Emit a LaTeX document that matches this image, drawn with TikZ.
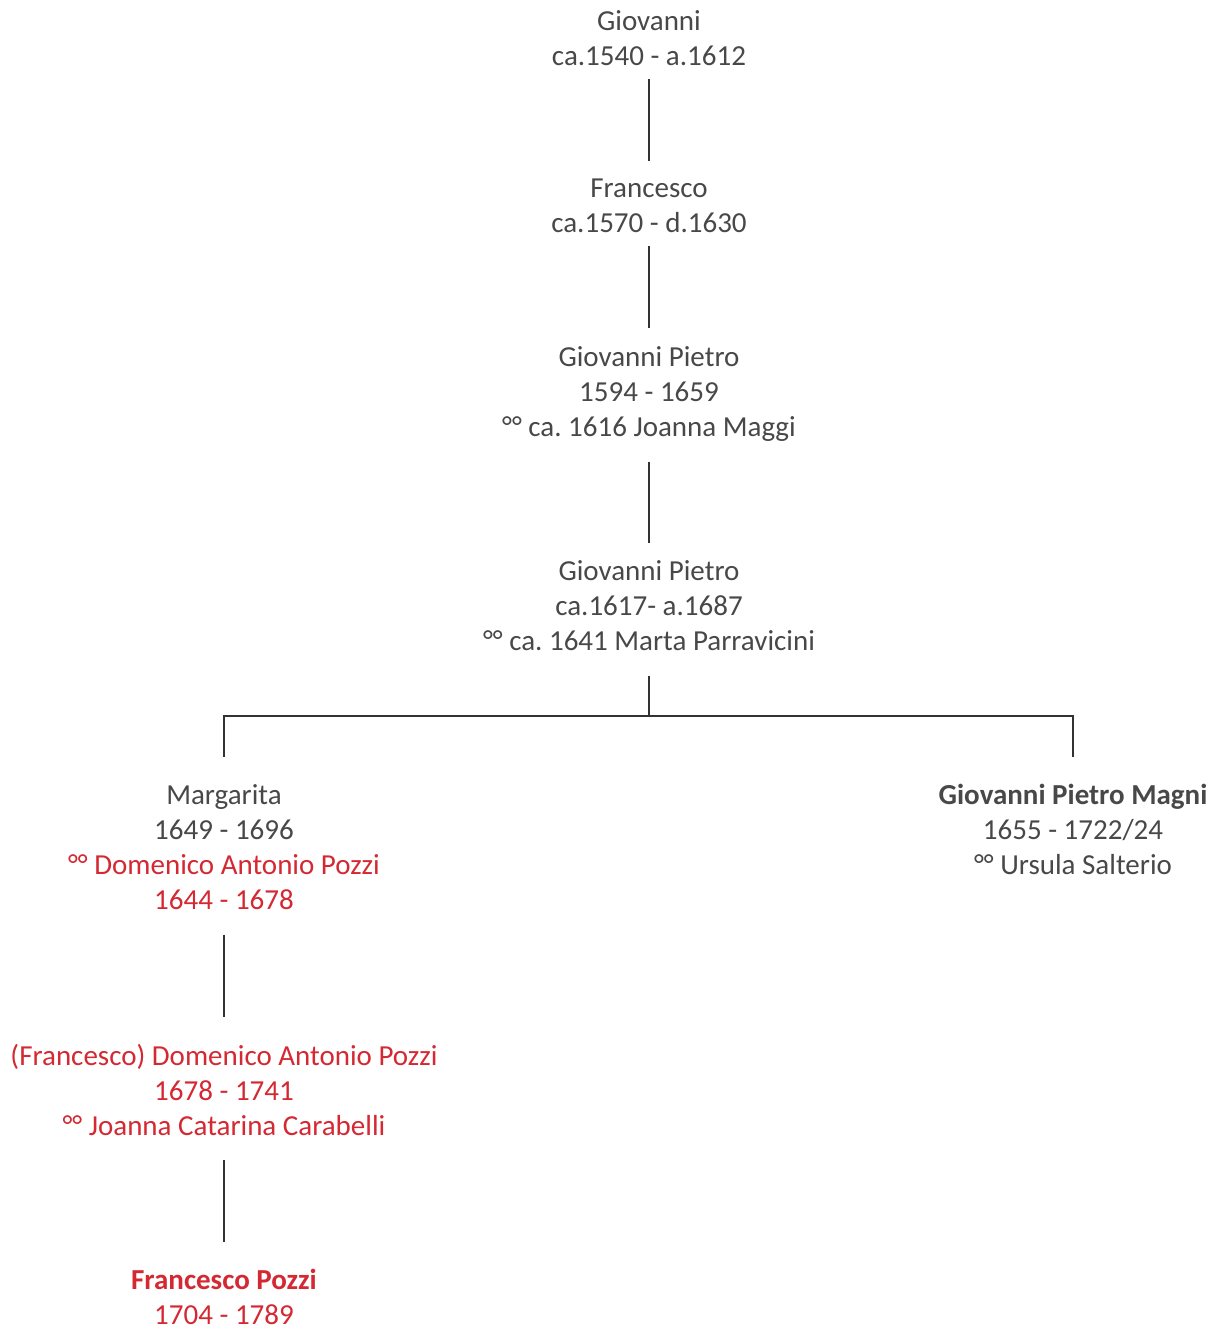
\documentclass[tikz,border=0pt]{standalone}
\usepackage{fontspec}
\setmainfont{Carlito}
\usetikzlibrary{calc}

\definecolor{inkgray}{RGB}{72,72,72}
\definecolor{linegray}{RGB}{50,50,50}
\definecolor{pozzired}{RGB}{212,40,50}

\tikzset{
  person/.style={align=center, inner sep=0pt, text=inkgray,
    font=\fontsize{14.5pt}{17.5pt}\selectfont\frenchspacing,
    execute at begin node=\strut, execute at end node=\strut},
  pozzi/.style={person, text=pozzired},
  link/.style={draw=linegray, line width=0.7pt}
}

\begin{document}
\begin{tikzpicture}[x=0.5pt,y=-0.5pt]
  \useasboundingbox (0,0) rectangle (1224,1329);

  % main line
  \node[person] (giovanni) at (649,43) {Giovanni\\ca.1540 - a.1612};
  \node[person] (francesco) at (649,211) {Francesco\\ca.1570 - d.1630};
  \node[person] (gpietroA) at (649,397) {Giovanni Pietro\\1594 - 1659\\°° ca. 1616 Joanna Maggi};
  \node[person] (gpietroB) at (649,611) {Giovanni Pietro\\ca.1617- a.1687\\°° ca. 1641 Marta Parravicini};

  % children
  \node[person] (margarita) at (224,852.5) {Margarita\\1649 - 1696\\
    \textcolor{pozzired}{°° Domenico Antonio Pozzi}\\\textcolor{pozzired}{1644 - 1678}};
  \node[person] (magni) at (1073,835) {\textbf{Giovanni Pietro Magni}\\1655 - 1722/24\\°° Ursula Salterio};

  % Pozzi line
  \node[pozzi] (domenico) at (224,1095) {(Francesco) Domenico Antonio Pozzi\\1678 - 1741\\°° Joanna Catarina Carabelli};
  \node[pozzi] (fpozzi) at (224,1302.5) {\textbf{Francesco Pozzi}\\1704 - 1789};

  \draw[link, shorten <=1.5pt, shorten >=9pt] (giovanni.south) -- (francesco.north);
  \draw[link, shorten <=1.5pt, shorten >=9pt] (francesco.south) -- (gpietroA.north);
  \draw[link, shorten <=7pt, shorten >=8.5pt] (gpietroA.south) -- (gpietroB.north);

  \coordinate (fork) at (649,716);
  \draw[link, shorten <=7pt] (gpietroB.south) -- (fork);
  \draw[link, shorten >=13.5pt] (fork) -| (margarita.north);
  \draw[link, shorten >=13.5pt] (fork) -| (magni.north);

  \draw[link, shorten <=7pt, shorten >=13.5pt] (margarita.south) -- (domenico.north);
  \draw[link, shorten <=7pt, shorten >=13.5pt] (domenico.south) -- (fpozzi.north);
\end{tikzpicture}
\end{document}
